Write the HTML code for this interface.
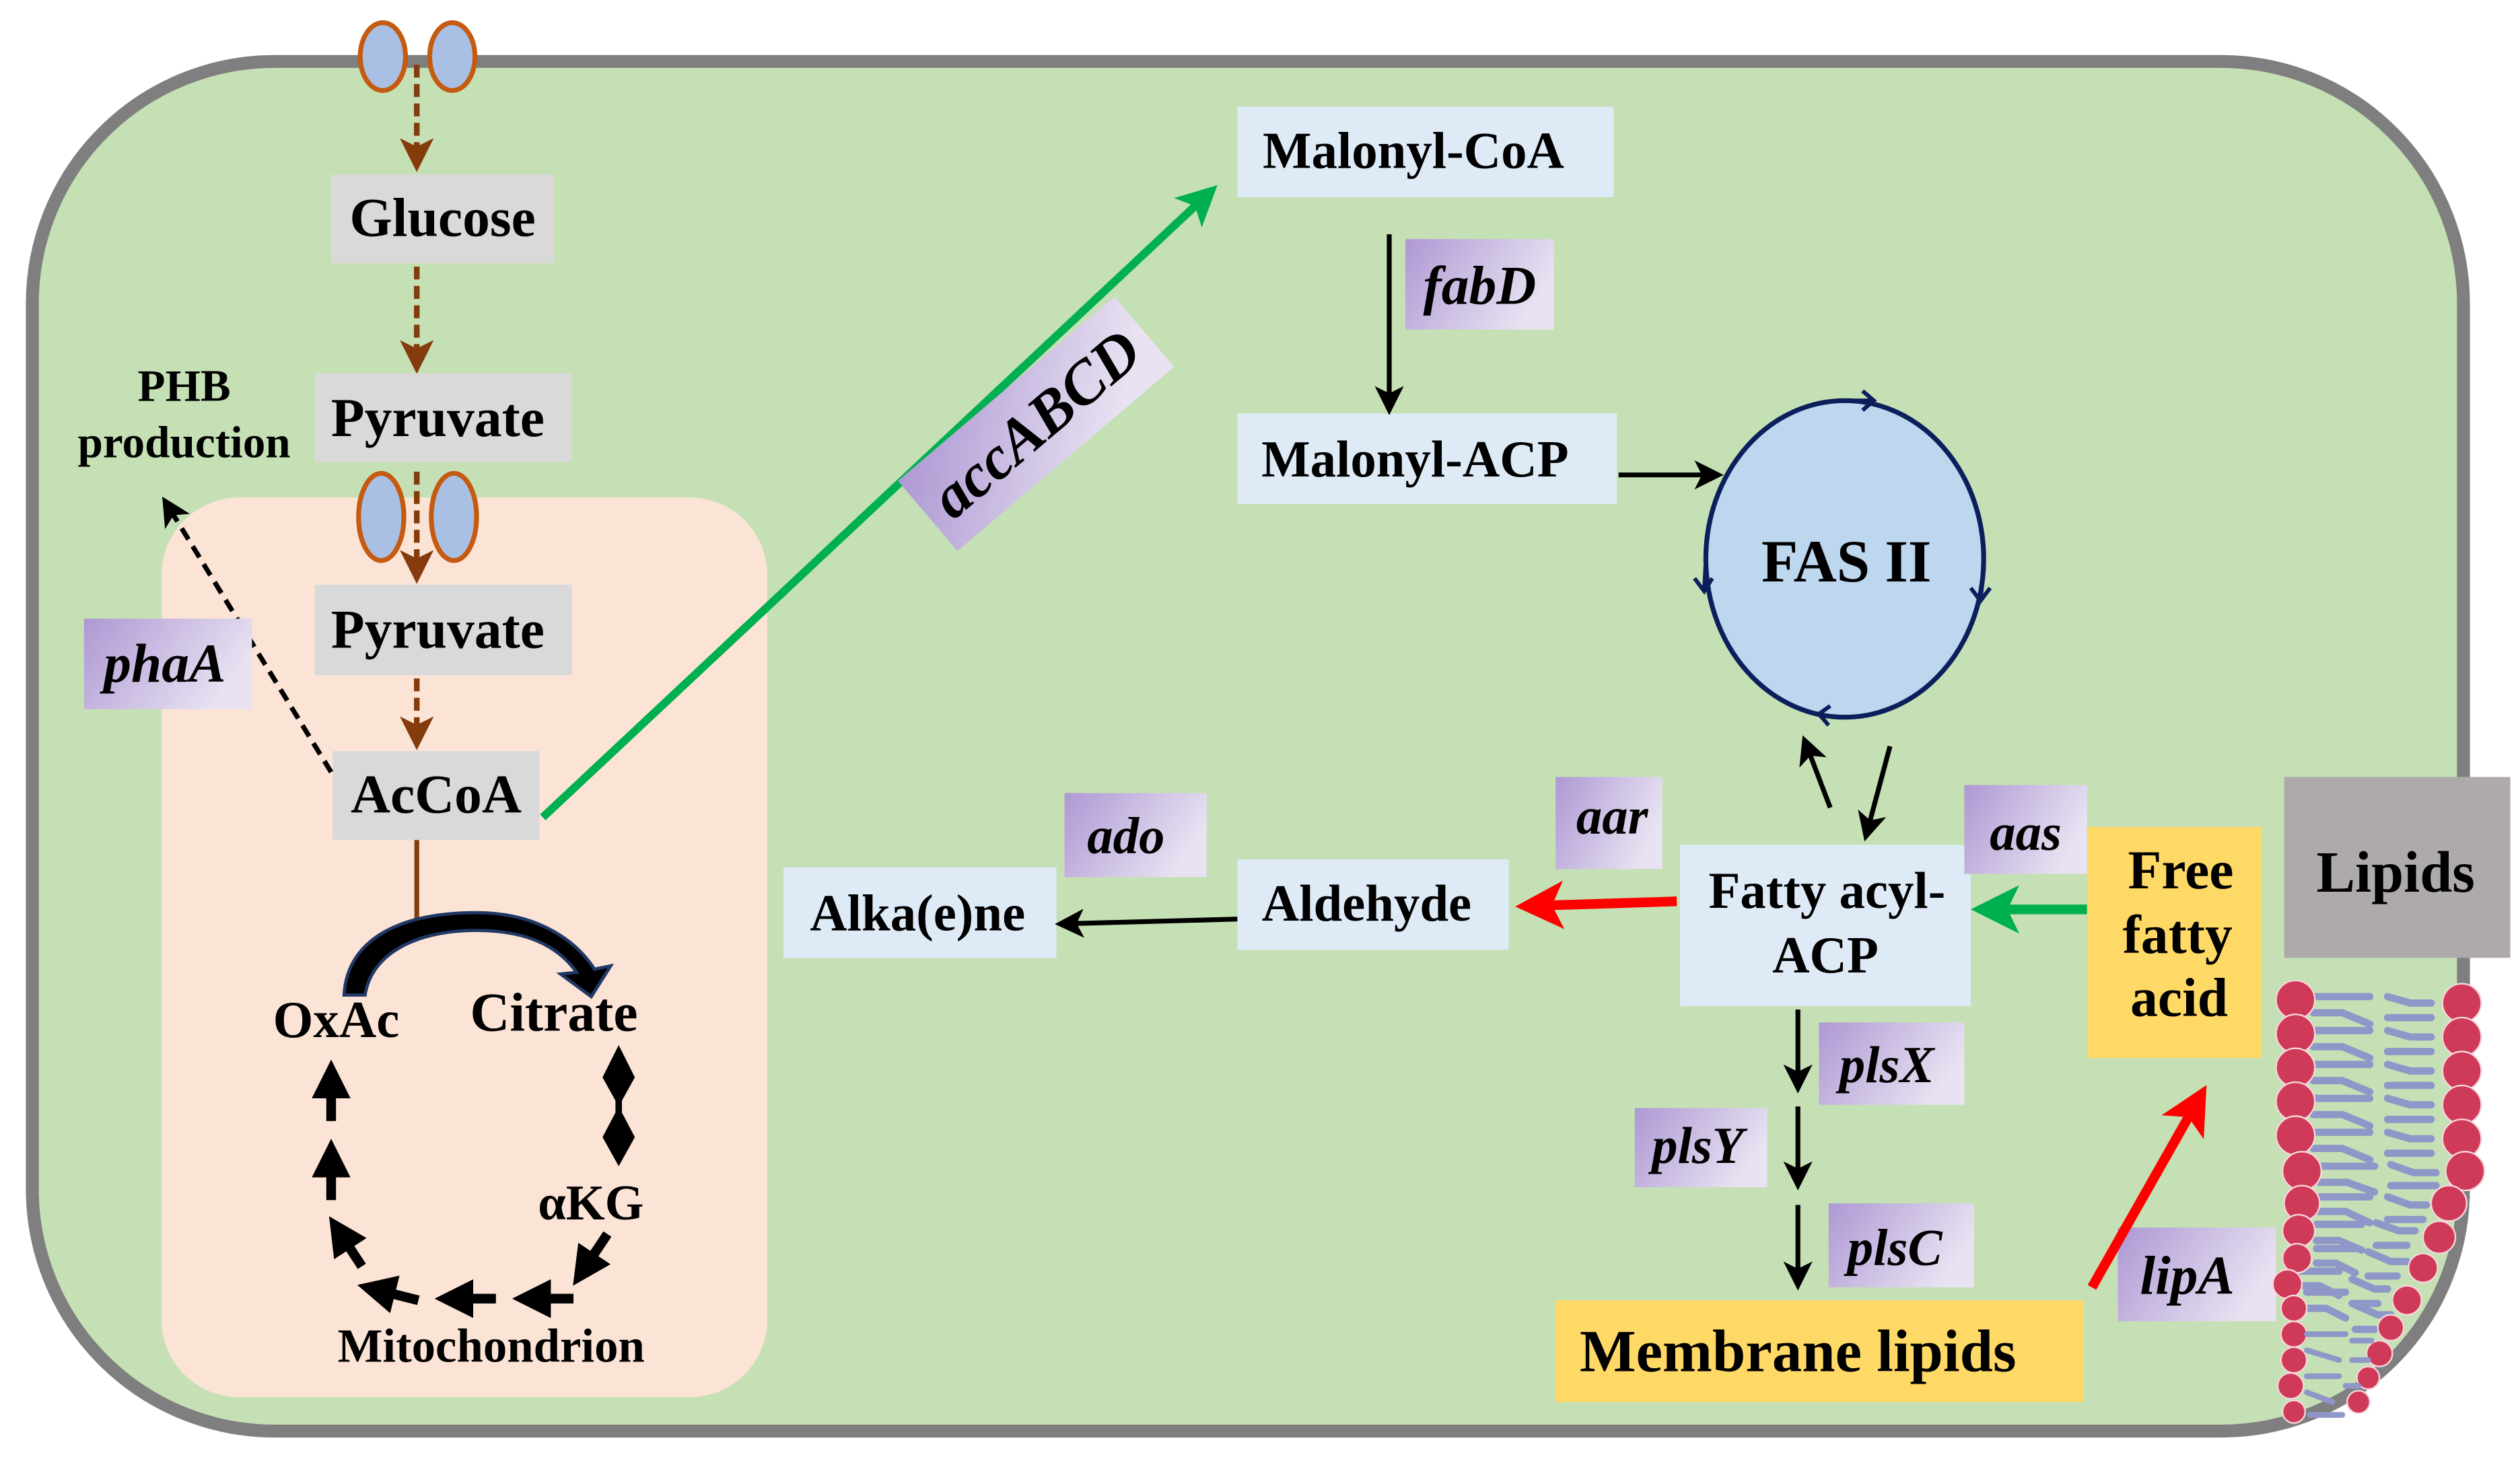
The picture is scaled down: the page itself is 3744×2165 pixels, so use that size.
<!DOCTYPE html>
<html><head><meta charset="utf-8"><style>
html,body{margin:0;padding:0;background:#fff;}
svg{display:block;}
text{font-family:"Liberation Serif",serif;font-weight:bold;fill:#000;}
.it{font-style:italic;}
</style></head><body>
<svg width="3744" height="2165" viewBox="0 0 1560 902" xmlns="http://www.w3.org/2000/svg">
<defs>
<linearGradient id="pg" x1="0" y1="0" x2="1" y2="0.4">
<stop offset="0" stop-color="#ae98d3"/><stop offset="1" stop-color="#e8e2f2"/>
</linearGradient>
<marker id="ak" markerWidth="6" markerHeight="6" refX="5" refY="3" orient="auto" markerUnits="strokeWidth"><path d="M0,0 L6,3 L0,6 L1.5,3 z" fill="#000"/></marker>
<marker id="ab" markerWidth="6" markerHeight="6" refX="5" refY="3" orient="auto" markerUnits="strokeWidth"><path d="M0,0 L6,3 L0,6 L1.5,3 z" fill="#843c0c"/></marker>
<marker id="ag" markerWidth="5" markerHeight="5" refX="4" refY="2.5" orient="auto" markerUnits="strokeWidth"><path d="M0,0 L5,2.5 L0,5 L1.2,2.5 z" fill="#00b050"/></marker>
<marker id="ar" markerWidth="5" markerHeight="5" refX="4" refY="2.5" orient="auto" markerUnits="strokeWidth"><path d="M0,0 L5,2.5 L0,5 L1.2,2.5 z" fill="#ff0000"/></marker>
<marker id="aK" markerWidth="4" markerHeight="4" refX="3" refY="2" orient="auto" markerUnits="strokeWidth"><path d="M0,0 L4,2 L0,4 z" fill="#000"/></marker>
</defs>
<rect width="1560" height="902" fill="#fff"/>
<rect x="20" y="38" width="1505" height="848" rx="150" fill="#c5e0b4" stroke="#7f7f7f" stroke-width="8"/>
<rect x="100" y="308" width="375" height="557" rx="48" fill="#fbe4d6"/>
<g fill="#a9c0e4" stroke="#c55a11" stroke-width="3">
<ellipse cx="237" cy="35" rx="14" ry="21"/><ellipse cx="280" cy="35" rx="14" ry="21"/>
<ellipse cx="236" cy="320" rx="14" ry="27"/><ellipse cx="281" cy="320" rx="14" ry="27"/>
</g>
<g stroke="#843c0c" stroke-width="3.5" stroke-dasharray="8,4" fill="none">
<line x1="258" y1="40" x2="258" y2="103" marker-end="url(#ab)"/>
<line x1="258" y1="165" x2="258" y2="228" marker-end="url(#ab)"/>
<line x1="258" y1="292" x2="258" y2="358" marker-end="url(#ab)"/>
<line x1="258" y1="420" x2="258" y2="461" marker-end="url(#ab)"/>
</g>
<line x1="258" y1="520" x2="258" y2="572" stroke="#843c0c" stroke-width="3"/>
<g fill="#d9d9d9">
<rect x="205" y="108" width="138" height="55"/>
<rect x="195" y="231" width="159" height="55"/>
<rect x="195" y="362" width="159" height="56"/>
<rect x="206" y="465" width="128" height="55"/>
</g>
<g font-size="34" text-anchor="middle">
<text x="274" y="146">Glucose</text>
<text x="271" y="270">Pyruvate</text>
<text x="271" y="401">Pyruvate</text>
<text x="270" y="503">AcCoA</text>
</g>
<line x1="205" y1="478" x2="102" y2="310" stroke="#000" stroke-width="3" stroke-dasharray="8,5" marker-end="url(#ak)"/>
<text x="114" y="248" font-size="28" text-anchor="middle">PHB</text>
<text x="114" y="283" font-size="28" text-anchor="middle">production</text>
<rect x="52" y="383" width="104" height="56" fill="url(#pg)"/>
<text x="102" y="422" font-size="34" class="it" text-anchor="middle">phaA</text>
<path d="M213,616 C215,580 250,565 295,565 C330,565 355,580 368,600 L378,598 L366,617 L347,603 L357,602 C345,585 325,576 295,576 C258,576 230,590 226,616 Z" fill="#000" stroke="#1f3864" stroke-width="2"/>
<text x="169" y="642" font-size="32">OxAc</text>
<text x="291" y="638" font-size="34">Citrate</text>
<text x="333" y="755" font-size="31">αKG</text>
<text x="209" y="843" font-size="29.5">Mitochondrion</text>
<line x1="383" y1="655" x2="383" y2="714" stroke="#000" stroke-width="4"/>
<g fill="#000">
<path d="M383,647 L393,667 L373,667 Z M383,685 L393,667 L373,667 Z M383,685 L393,704 L373,704 Z M383,722 L393,704 L373,704 Z"/>
</g>
<g stroke="#000" stroke-width="6" fill="none" marker-end="url(#aK)">
<line x1="205" y1="694" x2="205" y2="662"/>
<line x1="205" y1="743" x2="205" y2="711"/>
<line x1="224" y1="784" x2="207" y2="758"/>
<line x1="259" y1="805" x2="227" y2="797"/>
<line x1="307" y1="804" x2="275" y2="804"/>
<line x1="355" y1="804" x2="323" y2="804"/>
<line x1="376" y1="764" x2="358" y2="791"/>
</g>
<line x1="336" y1="506" x2="750" y2="118" stroke="#00b050" stroke-width="5" marker-end="url(#ag)"/>
<g transform="translate(641,262) rotate(-40.4)">
<rect x="-88" y="-28" width="176" height="57" fill="url(#pg)"/>
<text x="0" y="13" font-size="38" class="it" text-anchor="middle">accABCD</text>
</g>
<g fill="#deebf7">
<rect x="766" y="66" width="233" height="56"/>
<rect x="766" y="256" width="235" height="56"/>
<rect x="485" y="537" width="169" height="56"/>
<rect x="766" y="532" width="168" height="56"/>
<rect x="1040" y="523" width="180" height="100"/>
</g>
<g font-size="32" text-anchor="middle">
<text x="875" y="104">Malonyl-CoA</text>
<text x="876" y="295">Malonyl-ACP</text>
<text x="568" y="576">Alka(e)ne</text>
<text x="846" y="570">Aldehyde</text>
<text x="1131" y="562">Fatty acyl-</text>
<text x="1130" y="602">ACP</text>
</g>
<g stroke="#000" stroke-width="3" fill="none" marker-end="url(#ak)">
<line x1="860" y1="145" x2="860" y2="254"/>
<line x1="1002" y1="294" x2="1064" y2="294"/>
<line x1="766" y1="569" x2="656" y2="572"/>
<line x1="1133" y1="500" x2="1117" y2="458"/>
<line x1="1170" y1="462" x2="1155" y2="518"/>
<line x1="1113" y1="625" x2="1113" y2="674"/>
<line x1="1113" y1="685" x2="1113" y2="734"/>
<line x1="1113" y1="746" x2="1113" y2="796"/>
</g>
<ellipse cx="1142" cy="346" rx="86" ry="98" fill="#bdd7ee" stroke="#0c1f5c" stroke-width="3"/>
<g stroke="#0c1f5c" stroke-width="2.5" fill="none">
<path d="M1148,248 L1160,248 M1153,242 L1160,248 L1153,254"/>
<path d="M1228,352 L1226,372 M1220,364 L1226,372 L1232,364"/>
<path d="M1135,444 L1126,442 M1133,437 L1126,442 L1132,449"/>
<path d="M1056,346 L1055,366 M1049,358 L1055,366 L1060,358"/>
</g>
<text x="1143" y="360" font-size="37" text-anchor="middle">FAS II</text>
<rect x="870" y="148" width="92" height="56" fill="url(#pg)"/>
<text x="916" y="188" font-size="34" class="it" text-anchor="middle">fabD</text>
<rect x="659" y="491" width="88" height="52" fill="url(#pg)"/>
<text x="697" y="528" font-size="32" class="it" text-anchor="middle">ado</text>
<rect x="963" y="481" width="66" height="57" fill="url(#pg)"/>
<text x="998" y="516" font-size="32" class="it" text-anchor="middle">aar</text>
<rect x="1216" y="486" width="76" height="55" fill="url(#pg)"/>
<text x="1254" y="526" font-size="32" class="it" text-anchor="middle">aas</text>
<rect x="1126" y="633" width="90" height="51" fill="url(#pg)"/>
<text x="1168" y="670" font-size="32" class="it" text-anchor="middle">plsX</text>
<rect x="1012" y="686" width="82" height="49" fill="url(#pg)"/>
<text x="1051" y="720" font-size="32" class="it" text-anchor="middle">plsY</text>
<rect x="1132" y="745" width="90" height="52" fill="url(#pg)"/>
<text x="1173" y="783" font-size="32" class="it" text-anchor="middle">plsC</text>
<rect x="1311" y="760" width="98" height="58" fill="url(#pg)"/>
<text x="1354" y="801" font-size="34" class="it" text-anchor="middle">lipA</text>
<line x1="1038" y1="558" x2="944" y2="561" stroke="#ff0000" stroke-width="6" marker-end="url(#ar)"/>
<line x1="1292" y1="563" x2="1226" y2="563" stroke="#00b050" stroke-width="6" marker-end="url(#ag)"/>
<line x1="1295" y1="797" x2="1363" y2="677" stroke="#ff0000" stroke-width="6" marker-end="url(#ar)"/>
<rect x="1292" y="512" width="108" height="143" fill="#ffd966"/>
<g font-size="34" text-anchor="middle">
<text x="1350" y="550">Free</text>
<text x="1348" y="590">fatty</text>
<text x="1349" y="629">acid</text>
</g>
<rect x="963" y="805" width="327" height="63" fill="#ffd966"/>
<text x="1113" y="849" font-size="37" text-anchor="middle">Membrane lipids</text>
<rect x="1414" y="481" width="140" height="112" fill="#aeaaaa"/>
<text x="1483" y="552" font-size="36" text-anchor="middle">Lipids</text>
<g stroke="#8e97c8" stroke-width="4.5" stroke-linecap="round" fill="none">
<path d="M1432,617 H1467 M1432,627 H1450 L1467,634 M1478,617 L1492,621 H1505 M1478,630 H1505"/>
<path d="M1432,638 H1467 M1432,648 H1450 L1467,655 M1478,638 L1492,642 H1505 M1478,651 H1505"/>
<path d="M1432,659 H1467 M1432,669 H1450 L1467,676 M1478,659 L1492,663 H1505 M1478,672 H1505"/>
<path d="M1432,680 H1467 M1432,690 H1450 L1467,697 M1478,680 L1492,684 H1505 M1478,693 H1505"/>
<path d="M1432,701 H1467 M1432,711 H1450 L1467,718 M1478,701 L1492,705 H1505 M1478,714 H1505"/>
<path d="M1436,722 H1470 M1436,732 H1453 L1470,738 M1480,721 L1494,726 H1508 M1480,734 H1508"/>
<path d="M1435,741 H1467 M1435,750 H1452 L1467,757 M1478,741 L1492,746 H1502 M1478,755 H1500"/>
<path d="M1434,758 H1462 M1434,768 H1448 L1462,774 M1471,757 L1485,762 H1495 M1471,771 H1490"/>
<path d="M1434,773 H1458 M1434,782 H1446 L1458,788 M1466,775 L1480,781 H1490 M1466,790 H1484"/>
<path d="M1424,787 H1448 M1424,796 H1436 L1448,802 M1456,792 L1470,798 H1478 M1456,807 H1472"/>
<path d="M1428,800 H1452 M1428,810 H1440 L1452,816 M1458,808 L1472,814 H1480 M1458,823 H1470"/>
</g>
<g fill="#cf3a58" stroke="#f5d6dc" stroke-width="1">
<circle cx="1421" cy="619" r="12"/><circle cx="1421" cy="640" r="12"/><circle cx="1421" cy="661" r="12"/>
<circle cx="1421" cy="682" r="12"/><circle cx="1421" cy="703" r="12"/><circle cx="1425" cy="725" r="12"/>
<circle cx="1425" cy="745" r="11"/><circle cx="1423" cy="762" r="10"/><circle cx="1422" cy="779" r="9"/>
<circle cx="1416" cy="795" r="9"/><circle cx="1420" cy="810" r="8"/><circle cx="1420" cy="826" r="8"/>
<circle cx="1420" cy="842" r="8"/><circle cx="1418" cy="858" r="8"/><circle cx="1420" cy="874" r="7"/>
<circle cx="1524" cy="621" r="12"/><circle cx="1524" cy="642" r="12"/><circle cx="1524" cy="663" r="12"/>
<circle cx="1524" cy="684" r="12"/><circle cx="1524" cy="705" r="12"/><circle cx="1526" cy="725" r="12"/>
<circle cx="1516" cy="745" r="11"/><circle cx="1510" cy="766" r="10"/><circle cx="1500" cy="785" r="9"/>
<circle cx="1490" cy="805" r="9"/><circle cx="1480" cy="822" r="8"/><circle cx="1473" cy="838" r="8"/>
<circle cx="1466" cy="853" r="7"/><circle cx="1460" cy="868" r="7"/>
</g>
<g stroke="#8e97c8" stroke-width="3.5" stroke-linecap="round" fill="none">
<path d="M1428,826 H1452 M1428,836 L1448,842 M1456,830 H1468 M1456,842 H1466 M1428,852 H1448 M1428,862 L1444,868 M1452,858 H1460 M1430,876 H1450"/>
</g>
</svg>
</body></html>
